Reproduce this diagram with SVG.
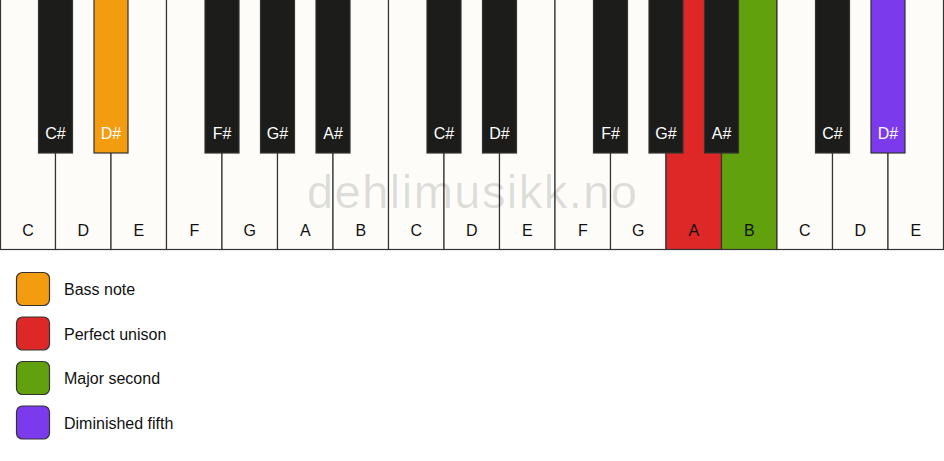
<svg xmlns="http://www.w3.org/2000/svg" width="944" height="461" viewBox="0 0 944 461">
<style>
.w{fill:#fdfcf9;stroke:#333;stroke-width:1.2}
.b{fill:#1c1c1a;stroke:#333;stroke-width:1.2}
.lw{font-family:"Liberation Sans",Arial,sans-serif;font-size:16px;fill:#111;text-anchor:middle}
.lb{font-family:"Liberation Sans",Arial,sans-serif;font-size:16px;fill:#fff;text-anchor:middle}
.lg{font-family:"Liberation Sans",Arial,sans-serif;font-size:16px;fill:#111}
.sw{stroke:#333;stroke-width:1.2}
</style>
<rect width="944" height="461" fill="#ffffff"/>
<g id="white-keys">
<g id="w0"><rect class="w" x="0.5" y="-1" width="55" height="250.5"/><text class="lw" x="28" y="236">C</text></g>
<g id="w1"><rect class="w" x="55.5" y="-1" width="55.5" height="250.5"/><text class="lw" x="83.3" y="236">D</text></g>
<g id="w2"><rect class="w" x="111" y="-1" width="55.5" height="250.5"/><text class="lw" x="138.8" y="236">E</text></g>
<g id="w3"><rect class="w" x="166.5" y="-1" width="55.5" height="250.5"/><text class="lw" x="194.3" y="236">F</text></g>
<g id="w4"><rect class="w" x="222" y="-1" width="55.5" height="250.5"/><text class="lw" x="249.8" y="236">G</text></g>
<g id="w5"><rect class="w" x="277.5" y="-1" width="55.5" height="250.5"/><text class="lw" x="305.3" y="236">A</text></g>
<g id="w6"><rect class="w" x="333" y="-1" width="55.5" height="250.5"/><text class="lw" x="360.8" y="236">B</text></g>
<g id="w7"><rect class="w" x="388.5" y="-1" width="55.5" height="250.5"/><text class="lw" x="416.3" y="236">C</text></g>
<g id="w8"><rect class="w" x="444" y="-1" width="55.5" height="250.5"/><text class="lw" x="471.8" y="236">D</text></g>
<g id="w9"><rect class="w" x="499.5" y="-1" width="55.5" height="250.5"/><text class="lw" x="527.3" y="236">E</text></g>
<g id="w10"><rect class="w" x="555" y="-1" width="55.5" height="250.5"/><text class="lw" x="582.8" y="236">F</text></g>
<g id="w11"><rect class="w" x="610.5" y="-1" width="55.5" height="250.5"/><text class="lw" x="638.3" y="236">G</text></g>
<g id="w12"><rect class="w" x="666" y="-1" width="55.5" height="250.5" style="fill:#de2828"/><text class="lw" x="693.8" y="236">A</text></g>
<g id="w13"><rect class="w" x="721.5" y="-1" width="55.5" height="250.5" style="fill:#62a10e"/><text class="lw" x="749.3" y="236">B</text></g>
<g id="w14"><rect class="w" x="777" y="-1" width="55.5" height="250.5"/><text class="lw" x="804.8" y="236">C</text></g>
<g id="w15"><rect class="w" x="832.5" y="-1" width="55.5" height="250.5"/><text class="lw" x="860.3" y="236">D</text></g>
<g id="w16"><rect class="w" x="888" y="-1" width="55.5" height="250.5"/><text class="lw" x="915.8" y="236">E</text></g>
</g>
<text id="watermark" x="307" y="208" font-family="'Liberation Sans',Arial,sans-serif" font-size="47" fill="#000" fill-opacity="0.12" textLength="330" lengthAdjust="spacing">dehlimusikk.no</text>
<g id="black-keys">
<g id="b1"><rect class="b" x="38.5" y="-1" width="34" height="154"/><text class="lb" x="55.5" y="139">C#</text></g>
<g id="b2"><rect class="b" x="94" y="-1" width="34" height="154" style="fill:#f39c0f"/><text class="lb" x="111" y="139">D#</text></g>
<g id="b4"><rect class="b" x="205" y="-1" width="34" height="154"/><text class="lb" x="222" y="139">F#</text></g>
<g id="b5"><rect class="b" x="260.5" y="-1" width="34" height="154"/><text class="lb" x="277.5" y="139">G#</text></g>
<g id="b6"><rect class="b" x="316" y="-1" width="34" height="154"/><text class="lb" x="333" y="139">A#</text></g>
<g id="b8"><rect class="b" x="427" y="-1" width="34" height="154"/><text class="lb" x="444" y="139">C#</text></g>
<g id="b9"><rect class="b" x="482.5" y="-1" width="34" height="154"/><text class="lb" x="499.5" y="139">D#</text></g>
<g id="b11"><rect class="b" x="593.5" y="-1" width="34" height="154"/><text class="lb" x="610.5" y="139">F#</text></g>
<g id="b12"><rect class="b" x="649" y="-1" width="34" height="154"/><text class="lb" x="666" y="139">G#</text></g>
<g id="b13"><rect class="b" x="704.5" y="-1" width="34" height="154"/><text class="lb" x="721.5" y="139">A#</text></g>
<g id="b15"><rect class="b" x="815.5" y="-1" width="34" height="154"/><text class="lb" x="832.5" y="139">C#</text></g>
<g id="b16"><rect class="b" x="871" y="-1" width="34" height="154" style="fill:#7c3aed"/><text class="lb" x="888" y="139">D#</text></g>
</g>
<g id="legend">
<g id="leg-bass"><rect class="sw" x="16.5" y="272.5" width="33" height="33" rx="6" fill="#f39c0f"/><text class="lg" x="64" y="295">Bass note</text></g>
<g id="leg-unison"><rect class="sw" x="16.5" y="317" width="33" height="33" rx="6" fill="#de2828"/><text class="lg" x="64" y="339.5">Perfect unison</text></g>
<g id="leg-second"><rect class="sw" x="16.5" y="361.5" width="33" height="33" rx="6" fill="#62a10e"/><text class="lg" x="64" y="384">Major second</text></g>
<g id="leg-fifth"><rect class="sw" x="16.5" y="406" width="33" height="33" rx="6" fill="#7c3aed"/><text class="lg" x="64" y="428.5">Diminished fifth</text></g>
</g>
<g id="connectors"/>
</svg>
